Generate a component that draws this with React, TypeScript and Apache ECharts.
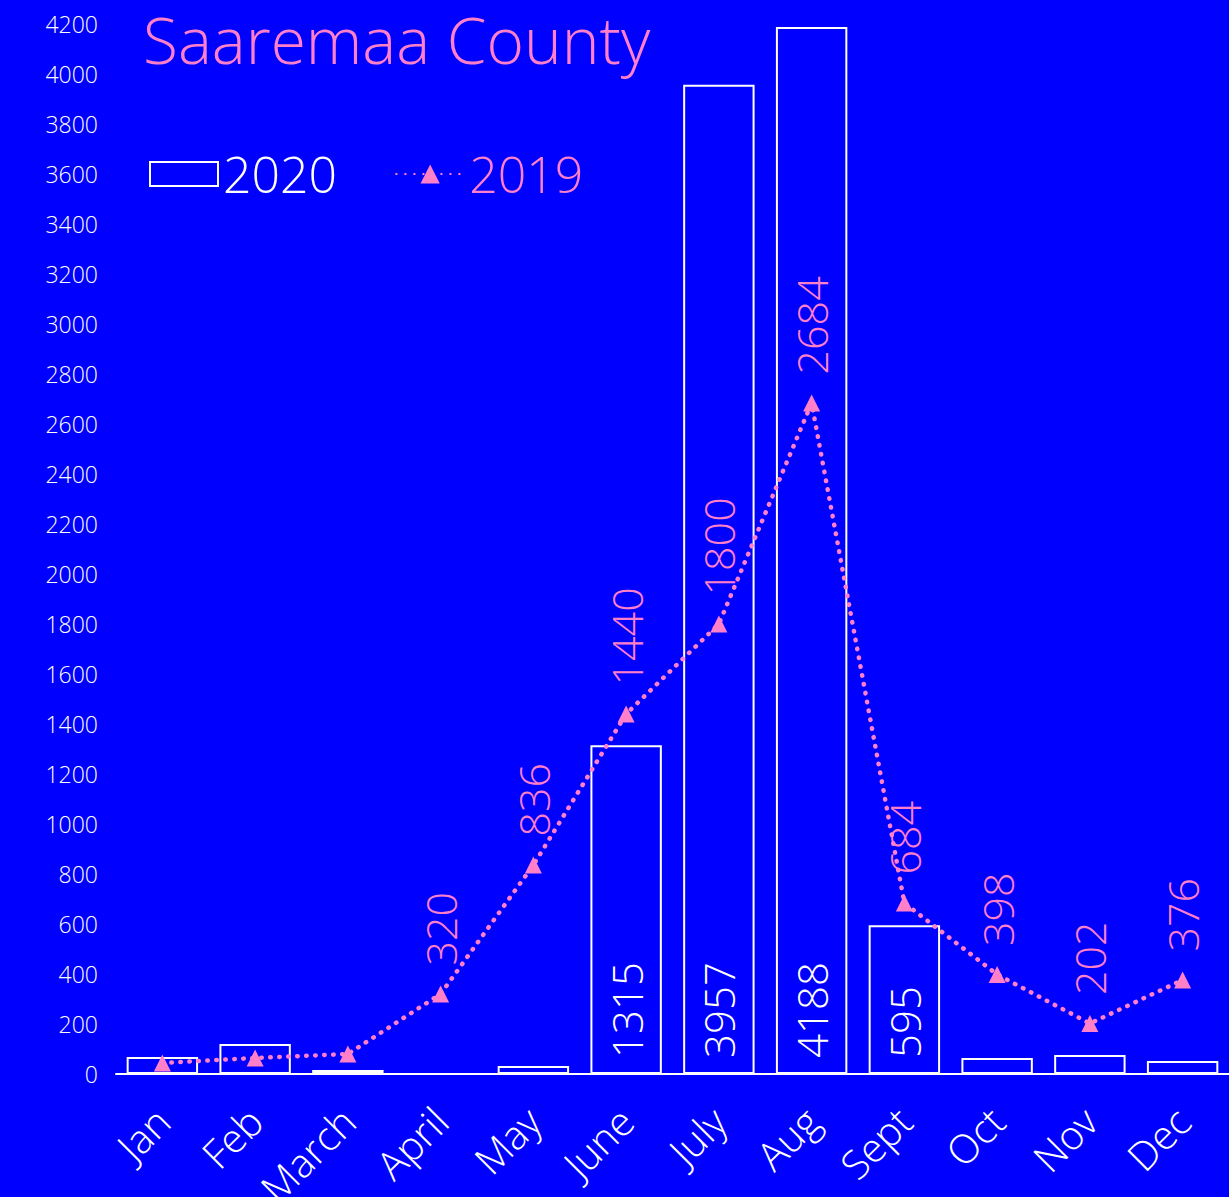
import React, { useEffect, useRef } from "react";
import * as echarts from "echarts";

const months = ["Jan", "Feb", "March", "April", "May", "June", "July", "Aug", "Sept", "Oct", "Nov", "Dec"];
const values2020 = [68, 120, 16, 0, 32, 1315, 3957, 4188, 595, 64, 76, 52];
const values2019 = [44, 64, 80, 320, 836, 1440, 1800, 2684, 684, 398, 202, 376];
const barLabelShown = [false, false, false, false, false, true, true, true, true, false, false, false];
const lineLabelShown = [false, false, false, true, true, true, true, true, true, true, true, true];

const PINK = "#ff80c8";
const BLUE = "#0000ff";
const FONT = "'Open Sans', 'Noto Sans', sans-serif";

export default function App() {
  const ref = useRef<HTMLDivElement>(null);
  useEffect(() => {
    document.body.style.margin = "0";
    const chart = echarts.init(ref.current!, null, { renderer: "svg" });
    chart.setOption({
      animation: false,
      backgroundColor: BLUE,
      title: {
        text: "Saaremaa County",
        left: 138,
        top: 2,
        textStyle: { color: PINK, fontSize: 64, fontWeight: 300, fontFamily: FONT },
      },
      legend: {
        left: 144,
        top: 144,
        itemWidth: 68,
        itemHeight: 24,
        itemGap: 58,
        textStyle: { fontSize: 50, fontFamily: FONT, fontWeight: 300 },
        data: [
          { name: "2020", icon: "rect", textStyle: { color: "#ffffff" } },
          { name: "2019", textStyle: { color: PINK } },
        ],
      },
      grid: { left: 116, right: 0, top: 24, bottom: 123, containLabel: false, outerBoundsMode: "none" },
      xAxis: {
        type: "category",
        data: months,
        axisLine: { lineStyle: { color: "#ffffff", width: 2 } },
        axisTick: { show: false },
        axisLabel: {
          color: "#ffffff",
          fontSize: 40,
          fontFamily: FONT,
          fontWeight: 300,
          rotate: 45,
          interval: 0,
          margin: 40,
        },
      },
      yAxis: {
        type: "value",
        min: 0,
        max: 4200,
        interval: 200,
        splitLine: { show: false },
        axisLine: { show: false },
        axisTick: { show: false },
        axisLabel: {
          color: "#ffffff",
          fontSize: 23,
          fontFamily: FONT,
          fontWeight: 300,
          margin: 18,
          formatter: (v: number) => String(v),
        },
      },
      series: [
        {
          name: "2020",
          type: "bar",
          barCategoryGap: "23%",
          data: values2020.map((v, i) => ({
            value: v,
            label: { show: barLabelShown[i] },
          })),
          itemStyle: { color: BLUE, borderColor: "#ffffff", borderWidth: 2 },
          label: {
            position: "insideBottom",
            rotate: 90,
            align: "left",
            verticalAlign: "middle",
            distance: 16,
            color: "#ffffff",
            fontSize: 42,
            fontWeight: 300,
            fontFamily: FONT,
          },
        },
        {
          name: "2019",
          type: "line",
          data: values2019.map((v, i) => ({
            value: v,
            label: { show: lineLabelShown[i] },
          })),
          symbol: "triangle",
          symbolSize: 17,
          itemStyle: { color: PINK },
          lineStyle: { color: PINK, width: 4.5, type: [0.5, 8.5], cap: "round" },
          label: {
            position: "top",
            rotate: 90,
            align: "left",
            verticalAlign: "middle",
            distance: 20,
            color: PINK,
            fontSize: 43,
            fontWeight: 300,
            fontFamily: FONT,
          },
        },
      ],
    });
    return () => chart.dispose();
  }, []);
  return <div ref={ref} style={{ width: 1229, height: 1197, position: "absolute", left: 0, top: 0 }} />;
}
